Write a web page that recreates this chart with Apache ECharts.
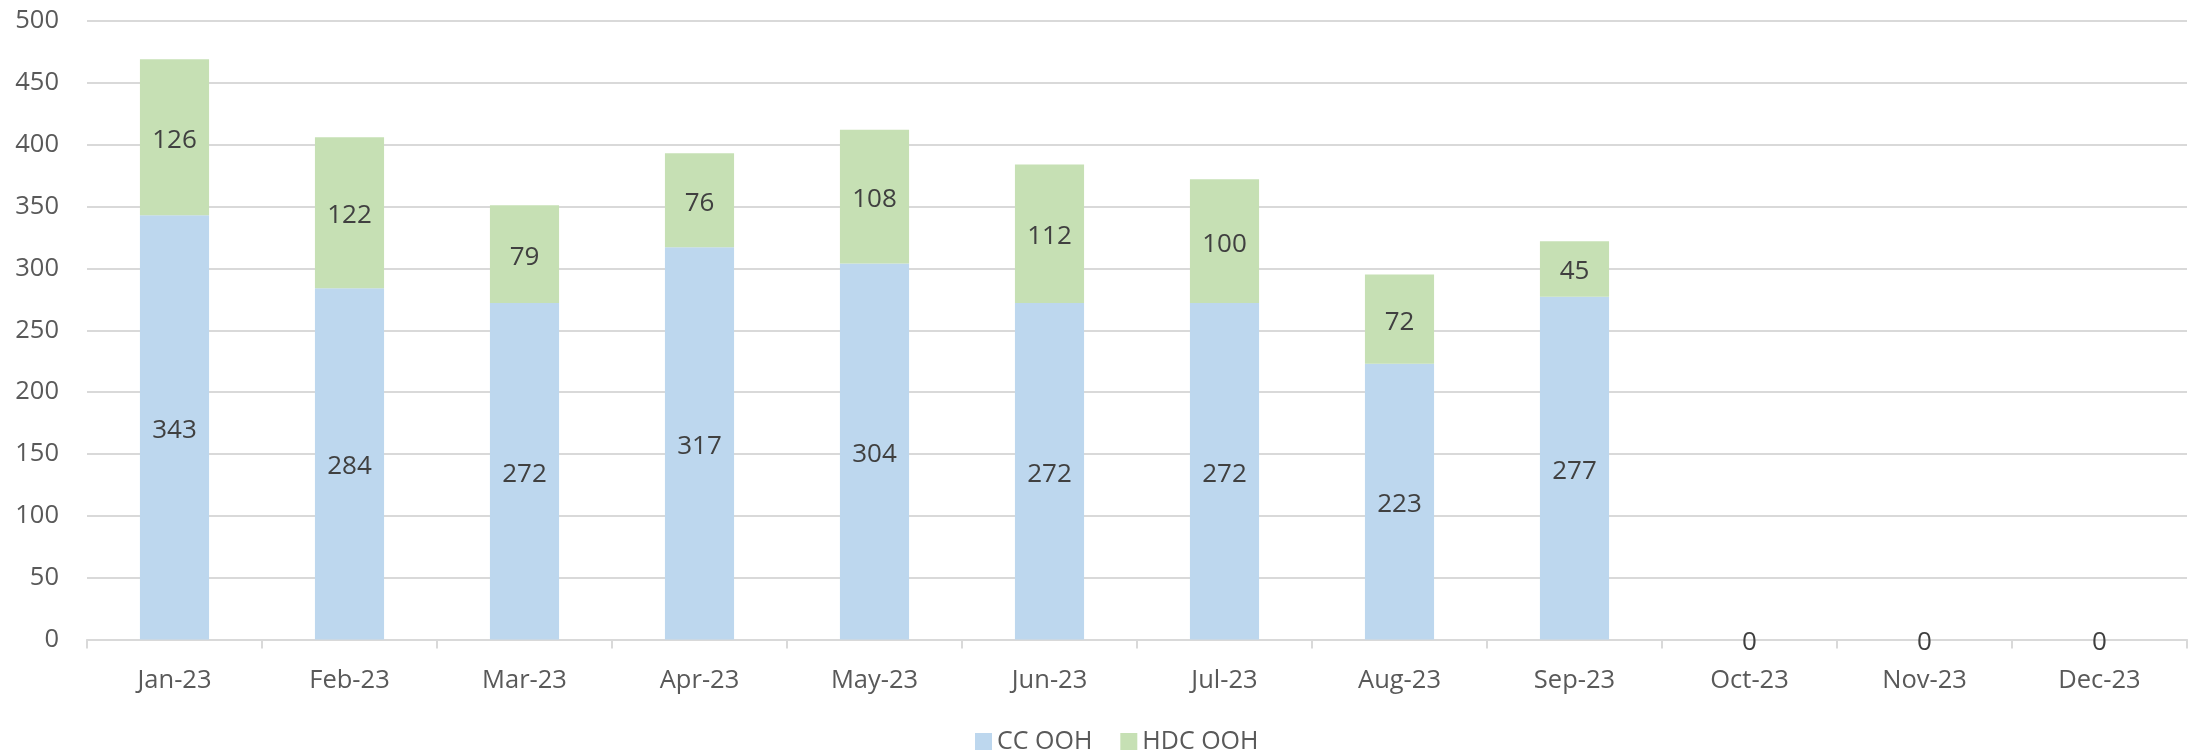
<!DOCTYPE html>
<html>
<head>
<meta charset="utf-8">
<script src="https://cdn.jsdelivr.net/npm/echarts@6/dist/echarts.min.js"></script>
<style>
html,body{margin:0;padding:0;background:#fff;}
#chart{width:2193px;height:751px;}
</style>
</head>
<body>
<div id="chart"></div>
<script>
const categories = ['Jan-23','Feb-23','Mar-23','Apr-23','May-23','Jun-23','Jul-23','Aug-23','Sep-23','Oct-23','Nov-23','Dec-23'];
const ccOOH = [343, 284, 272, 317, 304, 272, 272, 223, 277, 0, 0, 0];
const hdcOOH = [126, 122, 79, 76, 108, 112, 100, 72, 45, 0, 0, 0];
const yTicks = { min: 0, max: 500, interval: 50 };

const FONT = '"Open Sans", sans-serif';
const chart = echarts.init(document.getElementById('chart'));

function toItems(arr, showZero) {
  return arr.map(v => v === 0
    ? { value: v, label: { show: showZero } }
    : v);
}

const labelStyle = { show: true, position: 'inside', offset: [0, 3], fontFamily: FONT, fontSize: 26, color: '#404040' };

chart.setOption({
  animation: false,
  grid: { left: 87, right: 6, top: 21, bottom: 111.5, containLabel: false },
  legend: {
    data: ['CC OOH', 'HDC OOH'],
    left: 970,
    top: 724,
    itemWidth: 17,
    itemHeight: 17,
    itemGap: 28,
    icon: 'rect',
    textStyle: { fontFamily: FONT, fontSize: 25, color: '#595959' }
  },
  xAxis: {
    type: 'category',
    data: categories,
    axisLine: { lineStyle: { color: '#D9D9D9', width: 2 } },
    axisTick: { show: true, length: 9, lineStyle: { color: '#D9D9D9', width: 2 } },
    axisLabel: { fontFamily: FONT, fontSize: 25.5, color: '#595959', margin: 28 }
  },
  yAxis: {
    type: 'value',
    min: yTicks.min,
    max: yTicks.max,
    interval: yTicks.interval,
    axisLine: { show: false },
    axisTick: { show: false },
    splitLine: { lineStyle: { color: '#D9D9D9', width: 2 } },
    axisLabel: { fontFamily: FONT, fontSize: 25.5, color: '#595959', margin: 28, padding: [4, 0, 0, 0] }
  },
  series: [
    {
      name: 'CC OOH',
      type: 'bar',
      stack: 'total',
      barWidth: '39.5%',
      data: toItems(ccOOH, true),
      itemStyle: { color: '#BDD7EE' },
      label: labelStyle
    },
    {
      name: 'HDC OOH',
      type: 'bar',
      stack: 'total',
      barWidth: '39.5%',
      data: toItems(hdcOOH, false),
      itemStyle: { color: '#C6E0B4' },
      label: labelStyle
    }
  ]
});
</script>
</body>
</html>
